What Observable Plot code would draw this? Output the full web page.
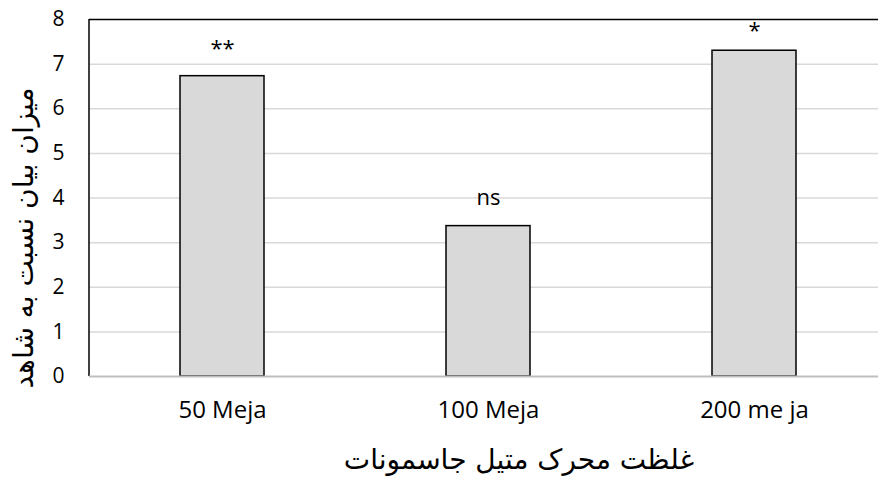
<!DOCTYPE html>
<html>
<head>
<meta charset="utf-8">
<script src="https://cdn.jsdelivr.net/npm/d3@7"></script>
<script src="https://cdn.jsdelivr.net/npm/@observablehq/plot@0.6"></script>
<style>
  body { margin: 0; background: #fff; }
</style>
</head>
<body>
<div id="chart"></div>
<script>
// Relative expression versus control for three methyl jasmonate concentrations
const categories = ["50 Meja", "100 Meja", "200 me ja"];
const values = [6.73, 3.37, 7.30];
const significance = ["**", "ns", "*"];
const yTicks = [0, 1, 2, 3, 4, 5, 6, 7, 8];
const xTitle = "غلظت محرک متیل جاسمونات";
const yTitle = "میزان بیان نسبت به شاهد";

const rows = categories.map((category, i) => ({
  category,
  value: values[i],
  label: significance[i]
}));

const latinFont = "'Open Sans', 'Liberation Sans', sans-serif";
const persianFont = "'DejaVu Sans', sans-serif";

// Significance labels sit a fixed gap above each bar, but never past the top border
const labelGap = 0.62;
const labelMax = 7.75;

// Left border of the plotting area
const leftBorder = (index, scales, values, dims) =>
  d3.create("svg:line")
    .attr("x1", dims.marginLeft).attr("x2", dims.marginLeft)
    .attr("y1", dims.marginTop).attr("y2", dims.height - dims.marginBottom)
    .attr("stroke", "#000").attr("stroke-width", 1.5)
    .node();

const chart = Plot.plot({
  width: 878,
  height: 478,
  marginLeft: 89,
  marginRight: 0,
  marginTop: 19,
  marginBottom: 102,
  style: { fontFamily: latinFont, background: "#fff", color: "#000" },
  x: { domain: categories, range: [89, 887], paddingInner: 0.684, paddingOuter: 0.342 },
  y: { domain: [0, 8] },
  marks: [
    Plot.ruleY(yTicks.filter(t => t > 0 && t < 8), { stroke: "#d9d9d9", strokeWidth: 1.5 }),
    Plot.ruleY([8], { stroke: "#000", strokeWidth: 1.5 }),
    leftBorder,
    Plot.barY(rows, { x: "category", y: "value", fill: "#d9d9d9", stroke: "#000", strokeWidth: 1.5 }),
    Plot.ruleY([0], { stroke: "#bfbfbf", strokeWidth: 2 }),
    Plot.text(rows, {
      x: "category",
      y: d => Math.min(d.value + labelGap, labelMax),
      text: "label",
      fontSize: 22,
      fill: "#000"
    }),
    Plot.axisY({ ticks: yTicks, tickSize: 0, tickPadding: 25, fontSize: 21, label: null }),
    Plot.axisX({ tickSize: 0, tickPadding: 24, fontSize: 24, label: null }),
    Plot.text([xTitle], {
      frameAnchor: "bottom",
      textAnchor: "middle",
      lineAnchor: "middle",
      dx: 35,
      dy: 84,
      fontSize: 28,
      fontFamily: persianFont,
      fill: "#000"
    }),
    Plot.text([yTitle], {
      frameAnchor: "left",
      textAnchor: "middle",
      lineAnchor: "middle",
      rotate: -90,
      dx: -65,
      dy: 40,
      fontSize: 28,
      fontFamily: persianFont,
      fill: "#000"
    })
  ]
});

document.getElementById("chart").append(chart);
</script>
</body>
</html>
